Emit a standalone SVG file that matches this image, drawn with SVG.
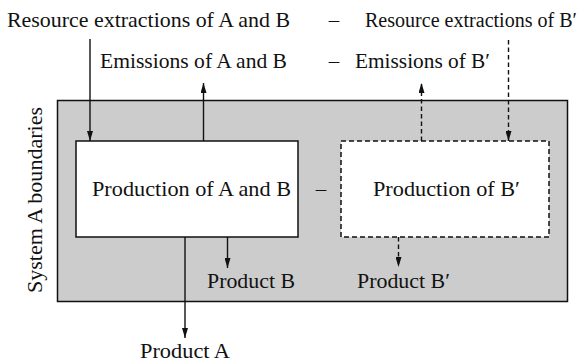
<svg xmlns="http://www.w3.org/2000/svg" width="585" height="362" viewBox="0 0 585 362">
<style>
text{font-family:"Liberation Serif","Times New Roman",serif;font-size:21px;fill:#111}
.ln{stroke:#111;stroke-width:1.4;fill:none}
.dl{stroke:#111;stroke-width:1.4;fill:none;stroke-dasharray:4.5 3}
.mid{text-anchor:middle}
</style>
<defs>
<marker id="arr" viewBox="0 0 10 6" refX="10" refY="3" markerWidth="10" markerHeight="6" markerUnits="userSpaceOnUse" orient="auto">
<path d="M0,0 L10,3 L0,6 Z" fill="#111"/>
</marker>
</defs>
<g id="boundary">
<rect x="57.5" y="100.5" width="510" height="201" fill="#cccccc" stroke="#111" stroke-width="1.5"/>
<text transform="translate(42,200) rotate(-90)" class="mid" textLength="186" lengthAdjust="spacingAndGlyphs">System A boundaries</text>
</g>
<g id="prodAB">
<rect x="76" y="141" width="222" height="96" fill="#fff" stroke="#111" stroke-width="1.5"/>
<text x="92" y="196" textLength="199" lengthAdjust="spacingAndGlyphs">Production of A and B</text>
</g>
<g id="prodB2">
<rect x="341" y="141" width="208" height="96" fill="#fff" stroke="#111" stroke-width="1.5" stroke-dasharray="5 3"/>
<text x="373" y="196" textLength="147" lengthAdjust="spacingAndGlyphs">Production of B′</text>
</g>
<g id="labels">
<text x="7" y="27" textLength="283" lengthAdjust="spacingAndGlyphs">Resource extractions of A and B</text>
<text x="334" y="27" class="mid">–</text>
<text x="365" y="27" style="font-size:20px" textLength="212" lengthAdjust="spacingAndGlyphs">Resource extractions of B′</text>
<text x="100" y="68" textLength="187" lengthAdjust="spacingAndGlyphs">Emissions of A and B</text>
<text x="334" y="68" class="mid">–</text>
<text x="355" y="68" textLength="135" lengthAdjust="spacingAndGlyphs">Emissions of B′</text>
<text x="321" y="196" class="mid">–</text>
<text x="207" y="288" textLength="88" lengthAdjust="spacingAndGlyphs">Product B</text>
<text x="357" y="288" textLength="93" lengthAdjust="spacingAndGlyphs">Product B′</text>
<text x="140" y="358" textLength="90" lengthAdjust="spacingAndGlyphs">Product A</text>
</g>
<g id="connectors">
<line class="ln" x1="90" y1="39" x2="90" y2="141" marker-end="url(#arr)"/>
<line class="ln" x1="203.5" y1="141" x2="203.5" y2="83" marker-end="url(#arr)"/>
<line class="dl" x1="421.5" y1="141" x2="421.5" y2="83" marker-end="url(#arr)"/>
<line class="dl" x1="508.5" y1="40" x2="508.5" y2="141" marker-end="url(#arr)"/>
<line class="ln" x1="185" y1="237" x2="185" y2="338" marker-end="url(#arr)"/>
<line class="ln" x1="227.5" y1="237" x2="227.5" y2="268" marker-end="url(#arr)"/>
<line class="dl" x1="398.5" y1="237" x2="398.5" y2="267" marker-end="url(#arr)"/>
</g>
</svg>
